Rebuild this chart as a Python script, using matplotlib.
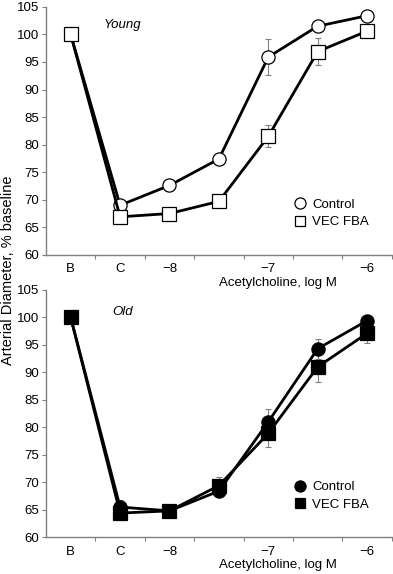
import matplotlib.pyplot as plt
from matplotlib.lines import Line2D
import numpy as np

plt.rcParams['font.family'] = ['Liberation Sans', 'DejaVu Sans']

# x positions: B, C, -8, -7.5, -7, -6.5, -6
tick_labels = ['B', 'C', '\u22128', '', '\u22127', '', '\u22126']

young_control = [100, 69.0, 72.6, 77.4, 95.9, 101.5, 103.4]
young_control_err = [0, 0.6, 0.5, 0.5, 3.2, 0.6, 0.5]
young_vec = [100, 66.9, 67.5, 69.7, 81.5, 96.9, 100.6]
young_vec_err = [0, 0.5, 1.0, 0.5, 2.0, 2.4, 0.6]

old_control = [100, 65.5, 64.8, 68.4, 81.0, 94.3, 99.4]
old_control_err = [0, 1.2, 0.8, 0.6, 2.3, 1.8, 0.6]
old_vec = [100, 64.4, 64.8, 69.4, 78.9, 91.0, 97.1]
old_vec_err = [0, 0.8, 0.8, 1.5, 2.5, 2.8, 1.8]

x = np.arange(len(tick_labels))
GRAY = '#808080'
FS = 9.5

fig = plt.figure(figsize=(3.93, 5.74), dpi=100)
ax1 = fig.add_axes([0.117, 0.556, 0.88, 0.432])
ax2 = fig.add_axes([0.117, 0.064, 0.88, 0.431])


def draw_panel(ax, ctrl, ctrl_err, vec, vec_err, fill, title, title_pos):
    ax.errorbar(x, ctrl, yerr=ctrl_err, fmt='none', ecolor=GRAY,
                elinewidth=0.8, capsize=2.5, capthick=0.8, zorder=1)
    ax.errorbar(x, vec, yerr=vec_err, fmt='none', ecolor=GRAY,
                elinewidth=0.8, capsize=2.5, capthick=0.8, zorder=1)
    ax.plot(x, ctrl, color='black', linewidth=2.0, marker='o', markersize=9.5,
            markerfacecolor=fill, markeredgecolor='black', markeredgewidth=0.9,
            zorder=3)
    ax.plot(x, vec, color='black', linewidth=2.0, marker='s', markersize=9.5,
            markerfacecolor=fill, markeredgecolor='black', markeredgewidth=0.9,
            zorder=4)

    ax.set_xlim(-0.5, 6.5)
    ax.set_ylim(60, 105)
    ax.set_yticks(np.arange(60, 106, 5))
    ax.set_xticks(x)
    ax.set_xticklabels(tick_labels)
    ax.set_xticks(x + 0.5, minor=True)
    ax.tick_params(axis='x', which='major', length=0, pad=6, labelsize=FS)
    ax.tick_params(axis='x', which='minor', length=3, color=GRAY, width=0.8)
    ax.tick_params(axis='y', length=3, color=GRAY, width=0.8, labelsize=FS, pad=2)
    for s in ['top', 'right']:
        ax.spines[s].set_visible(False)
    for s in ['left', 'bottom']:
        ax.spines[s].set_color(GRAY)
        ax.spines[s].set_linewidth(1.0)

    ax.set_xlabel('Acetylcholine, log M', fontsize=FS, labelpad=1, x=0.67)
    ax.text(title_pos[0], title_pos[1], title, style='italic', fontsize=FS,
            va='center')

    handles = [
        Line2D([], [], linestyle='none', marker='o', markersize=8,
               markerfacecolor=fill, markeredgecolor='black', markeredgewidth=0.9),
        Line2D([], [], linestyle='none', marker='s', markersize=7.5,
               markerfacecolor=fill, markeredgecolor='black', markeredgewidth=0.9),
    ]
    ax.legend(handles, ['Control', 'VEC FBA'], loc='upper left',
              bbox_to_anchor=(0.69, 0.265), frameon=False, fontsize=FS,
              handlelength=1.0, handletextpad=0.4, labelspacing=0.4,
              borderpad=0.2)


draw_panel(ax1, young_control, young_control_err, young_vec, young_vec_err,
           'white', 'Young', (0.66, 101.7))
draw_panel(ax2, old_control, old_control_err, old_vec, old_vec_err,
           'black', 'Old', (0.85, 101.0))

fig.text(0.02, 0.529, 'Arterial Diameter, % baseline', rotation=90,
         ha='center', va='center', fontsize=10.5)

fig.savefig('out.png', dpi=100)
